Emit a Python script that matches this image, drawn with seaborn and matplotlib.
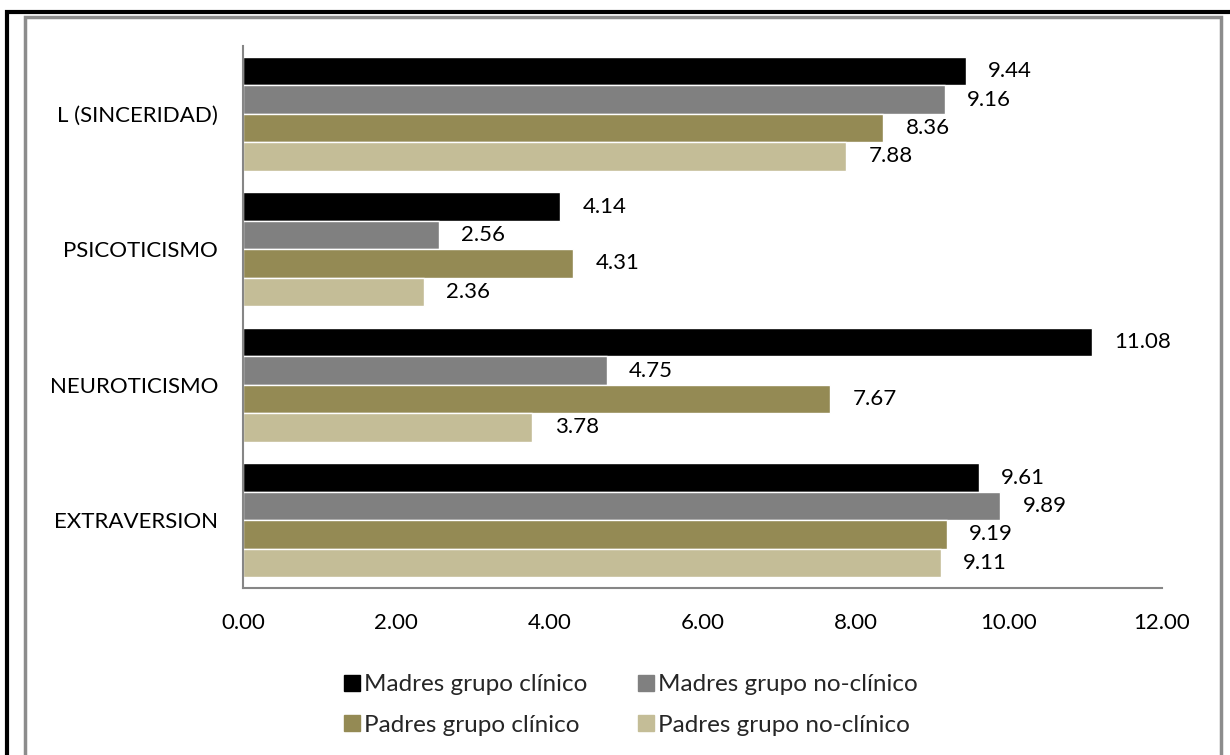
import matplotlib
matplotlib.use("Agg")
import matplotlib.pyplot as plt
from matplotlib.patches import Rectangle
from matplotlib.lines import Line2D
import seaborn as sns
import pandas as pd

# Escalas del EPQ y medias por grupo
escalas = ["L (SINCERIDAD)", "PSICOTICISMO", "NEUROTICISMO", "EXTRAVERSION"]
grupos = ["Madres grupo clínico", "Madres grupo no-clínico",
          "Padres grupo clínico", "Padres grupo no-clínico"]
madres_clinico = [9.44, 4.14, 11.08, 9.61]
madres_no_clinico = [9.16, 2.56, 4.75, 9.89]
padres_clinico = [8.36, 4.31, 7.67, 9.19]
padres_no_clinico = [7.88, 2.36, 3.78, 9.11]
ticks_x = [0, 2, 4, 6, 8, 10, 12]

colores = ["#000000", "#808080", "#948A54", "#C4BD97"]

series = [madres_clinico, madres_no_clinico, padres_clinico, padres_no_clinico]
df = pd.DataFrame([
    {"escala": e, "grupo": g, "media": v}
    for g, vals in zip(grupos, series)
    for e, v in zip(escalas, vals)
])

sns.set_theme(style="white")
plt.rcParams["font.family"] = ["Lato", "DejaVu Sans"]
FS = 16

fig = plt.figure(figsize=(12.3, 7.55), dpi=100)
ax = fig.add_axes([243 / 1230, 1 - 588 / 755, (1162 - 243) / 1230, (588 - 46) / 755])

sns.barplot(data=df, y="escala", x="media", hue="grupo", order=escalas,
            hue_order=grupos, palette=colores, orient="h", width=0.84,
            saturation=1, ax=ax, legend=False, errorbar=None)

ax.set_xlim(0, 12)
ax.set_ylim(3.5, -0.5)
ax.set_xticks(ticks_x)
ax.set_xticklabels([f"{t:.2f}" for t in ticks_x], fontsize=FS, color="#000000")
ax.tick_params(axis="x", length=0, pad=18)
ax.tick_params(axis="y", length=0, pad=18, labelsize=FS, labelcolor="#000000")
ax.set_xlabel("")
ax.set_ylabel("")

for side in ["top", "right"]:
    ax.spines[side].set_visible(False)
for side in ["left", "bottom"]:
    ax.spines[side].set_color("#868686")
    ax.spines[side].set_linewidth(1.5)

# Etiquetas de valor a la derecha de cada barra
for cont in ax.containers:
    ax.bar_label(cont, labels=[f"{w:.2f}" for w in cont.datavalues],
                 padding=16, fontsize=FS, color="#000000")

# Leyenda inferior en dos columnas (orden por filas)
handles = [Line2D([0], [0], marker="s", linestyle="none", markersize=12,
                  markerfacecolor=c, markeredgecolor=c) for c in colores]
orden = [0, 2, 1, 3]
fig.legend([handles[i] for i in orden], [grupos[i] for i in orden],
           loc="center", bbox_to_anchor=(630 / 1230, 1 - 705 / 755),
           ncol=2, frameon=False, fontsize=17.5, handletextpad=0.1,
           columnspacing=2.0, labelspacing=0.8, handlelength=0.8)

# Marcos exteriores
fig.patches.append(Rectangle((7 / 1230, -0.05), 1.2, (755 - 12) / 755 + 0.05,
                             transform=fig.transFigure, fill=False,
                             edgecolor="#000000", linewidth=3))
fig.patches.append(Rectangle((25 / 1230, -0.05), (1221 - 25) / 1230, (755 - 17) / 755 + 0.05,
                             transform=fig.transFigure, fill=False,
                             edgecolor="#8c8c8c", linewidth=2.5))

fig.savefig("out.png", dpi=100)
